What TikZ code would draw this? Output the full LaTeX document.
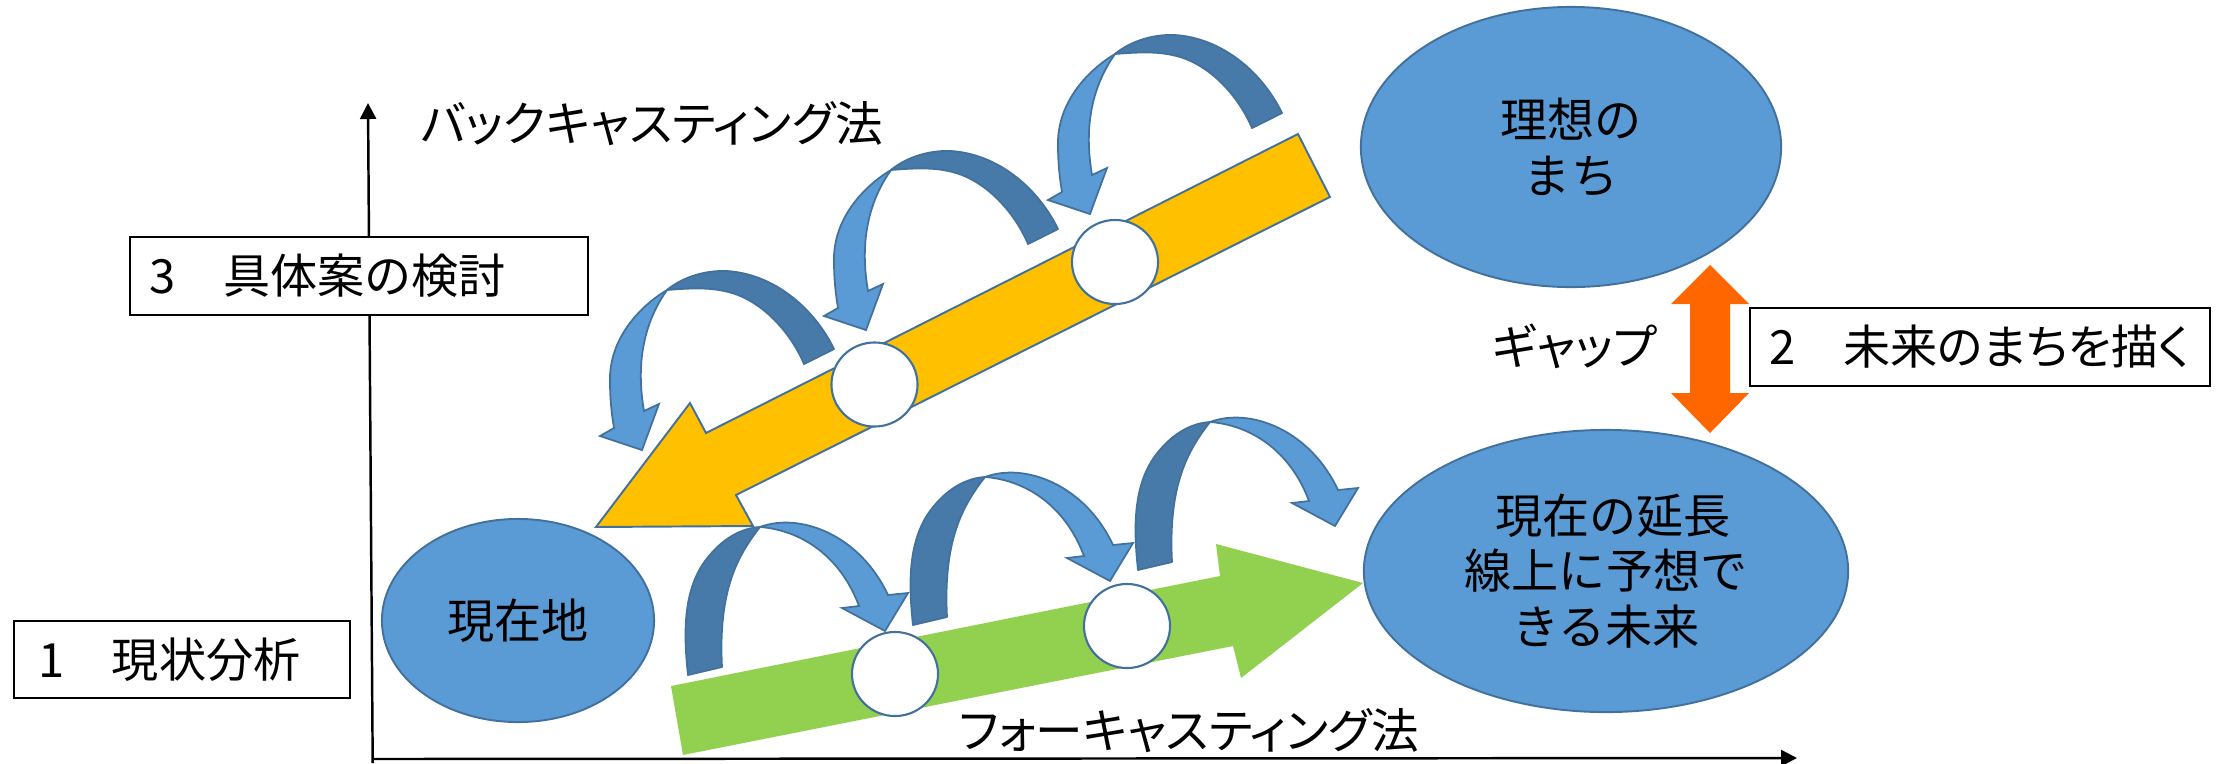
\documentclass[tikz,border=0pt]{standalone}
\usepackage{fontspec}
\setmainfont{Noto Sans CJK JP}
\newfontfamily\jpprop[RawFeature=+palt]{Noto Sans CJK JP}
\usetikzlibrary{arrows.meta,shapes.geometric}
\definecolor{lblue}{HTML}{5B9BD5}
\definecolor{dblue}{HTML}{477AA8}
\definecolor{oblue}{HTML}{41719C}
\definecolor{ayellow}{HTML}{FFC000}
\definecolor{agreen}{HTML}{92D050}
\definecolor{aorange}{HTML}{FF6600}
\tikzset{
  jfont/.style={font=\fontsize{13.4pt}{15.9pt}\selectfont},
  bubble/.style={ellipse, fill=lblue, draw=oblue, line width=0.55pt, inner sep=0pt, align=center, jfont},
  stagebox/.style={rectangle, draw=black, fill=white, line width=0.65pt, inner xsep=0.2cm, inner ysep=0pt, align=left, jfont},
  hole/.style={ellipse, fill=white, draw=oblue, line width=0.6pt, minimum width=0.86cm, minimum height=0.84cm, inner sep=0pt},
  axisline/.style={line width=0.7pt, -{Triangle[width=0.16cm,length=0.16cm]}},
  methodlabel/.style={font=\jpprop\fontsize{13.55pt}{16pt}\selectfont, inner sep=0pt},
  darkband/.style={fill=dblue, draw=oblue, line width=0.5pt, line join=round},
  lightband/.style={fill=lblue, draw=oblue, line width=0.5pt, line join=miter},
}
\newcommand\backloop[1]{%
  \begin{scope}[shift={#1}]
    \filldraw[darkband] (1282,113) .. controls (1262,72) and (1222,38) .. (1175,35)
      .. controls (1150,34) and (1128,43) .. (1115,54)
      .. controls (1140,52) and (1160,51) .. (1180,57)
      .. controls (1210,66) and (1238,95) .. (1252,128) -- cycle;
    \filldraw[lightband] (1115,54) .. controls (1085,72) and (1057,105) .. (1058,145)
      .. controls (1058,165) and (1060,180) .. (1062,192)
      -- (1048,200) -- (1090,214) -- (1107,168) -- (1092,175)
      .. controls (1086,140) and (1086,95) .. (1115,54) -- cycle;
  \end{scope}}
\newcommand\foreloop[1]{%
  \begin{scope}[shift={#1}]
    \filldraw[darkband] (688,675) .. controls (683,630) and (684,590) .. (705,561)
      .. controls (722,538) and (742,528) .. (760,527)
      .. controls (738,555) and (718,590) .. (722,667) -- cycle;
    \filldraw[lightband] (760,527) .. controls (800,512) and (860,535) .. (888,595)
      -- (908,593) -- (885,631) -- (842,608) -- (859,606)
      .. controls (840,555) and (800,530) .. (760,527) -- cycle;
  \end{scope}}
\begin{document}
\begin{tikzpicture}[x=0.01cm, y=-0.01cm]
\useasboundingbox (0,0) rectangle (2218,763);

% axes
\coordinate (ybot) at (372.7,763);
\coordinate (ytop) at (368,103);
\coordinate (xleft) at (372,759);
\coordinate (xright) at (1797,758);
\draw[axisline] (ybot) -- (ytop);
\draw[axisline] (xleft) -- (xright);

% main ellipses
\node[bubble, minimum width=4.2cm, minimum height=2.8cm] (ideal) at (1571,147) {理想の\\まち};
\node[bubble, minimum width=4.84cm, minimum height=2.82cm] (future) at (1606,571) {\hspace*{0.3em}現在の延長\\線上に予想で\\きる未来};
\node[bubble, minimum width=2.72cm, minimum height=2.03cm] (now) at (518,620.5) {現在地};

% backcasting block arrow (yellow)
\filldraw[fill=ayellow, draw=oblue, line width=0.55pt, line join=miter]
  (1298,134) -- (1330,197) -- (736,495) -- (753,526) -- (596,527) -- (690,403) -- (706,433) -- cycle;
% forecasting block arrow (green)
\fill[agreen]
  (671,686) -- (1220,576) -- (1216,544) -- (1363,583) -- (1241,678) -- (1233,646) -- (683,755) -- cycle;

% milestones
\node[hole] (y1) at (1115,262) {};
\node[hole] (y2) at (874.5,384.5) {};
\node[hole] (g1) at (895,674) {};
\node[hole] (g2) at (1127,626) {};

% curved step arrows
\backloop{(0,0)}
\backloop{(-224,116)}
\backloop{(-448,236)}
\foreloop{(0,0)}
\foreloop{(225,-50)}
\foreloop{(450,-105)}

% gap double arrow
\fill[aorange] (1710,265) -- (1749,304) -- (1730,304) -- (1730,393) -- (1749,393) -- (1710,433)
  -- (1671,393) -- (1690,393) -- (1690,304) -- (1671,304) -- cycle;

% stage boxes
\node[stagebox, text width=4.18cm, minimum height=0.78cm] (s3) at (359,276) {3　具体案の検討};
\node[stagebox, text width=2.96cm, minimum height=0.77cm] (s1) at (182,659.5) {\hspace*{0.1em}1　現状分析};
\node[stagebox, text width=4.2cm, minimum height=0.78cm] (s2) at (1980,347) {2　{\jpprop 未来のまちを描く}};

% labels
\node[methodlabel, anchor=west] (back) at (420,124) {バックキャスティング法};
\node[methodlabel, anchor=west] (fore) at (958,731) {フォーキャスティング法};
\node[methodlabel] (gap) at (1575,346) {ギャップ};
\end{tikzpicture}
\end{document}
